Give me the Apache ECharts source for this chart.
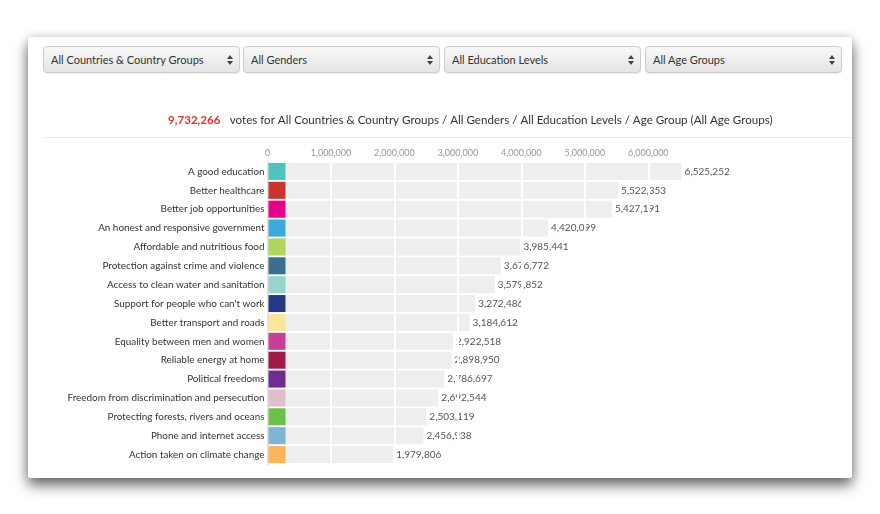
<!DOCTYPE html>
<html>
<head>
<meta charset="utf-8">
<script src="https://cdn.jsdelivr.net/npm/echarts@6/dist/echarts.min.js"></script>
<style>
  html, body { margin:0; padding:0; background:#fff; width:880px; height:514px; overflow:hidden; font-family: Lato, "Open Sans", sans-serif; }
  #card { position:absolute; left:28px; top:37px; width:824px; height:441px; background:#fff; border-radius:2px;
          box-shadow: 0 7px 14px rgba(0,0,0,0.6), 0 0 8px rgba(0,0,0,0.12); }
  #sep { position:absolute; left:43px; top:137px; width:809px; height:1px; background:#e9e9e9; }
  .sel { position:absolute; top:46px; height:27px; border:1px solid #cdcdcd; border-radius:4px;
         background: linear-gradient(#f8f8f8, #e4e4e4); box-sizing:border-box; box-shadow: 0 1px 1px rgba(0,0,0,0.08);
         font-size:11px; color:#333; line-height:26px; padding-left:7px; white-space:nowrap; }
  .arr { position:absolute; right:6px; top:8px; width:6px; height:10px; }
  .arr:before, .arr:after { content:""; position:absolute; left:0; border-left:3px solid transparent; border-right:3px solid transparent; }
  .arr:before { top:0; border-bottom:4px solid #444; }
  .arr:after { top:6px; border-top:4px solid #444; }
  #chart { position:absolute; left:0; top:0; width:880px; height:514px; }
</style>
</head>
<body>
<div id="card"></div>
<div id="sep"></div>
<div id="filters"></div>
<div id="chart"></div>
<script>
// ---- data ----
const filterLabels = ["All Countries & Country Groups", "All Genders", "All Education Levels", "All Age Groups"];
const totalVotes = 9732266;
const categories = [
  "A good education",
  "Better healthcare",
  "Better job opportunities",
  "An honest and responsive government",
  "Affordable and nutritious food",
  "Protection against crime and violence",
  "Access to clean water and sanitation",
  "Support for people who can't work",
  "Better transport and roads",
  "Equality between men and women",
  "Reliable energy at home",
  "Political freedoms",
  "Freedom from discrimination and persecution",
  "Protecting forests, rivers and oceans",
  "Phone and internet access",
  "Action taken on climate change"
];
const votes = [6525252, 5522353, 5427191, 4420099, 3985441, 3676772, 3579852, 3272486,
               3184612, 2922518, 2898950, 2786697, 2692544, 2503119, 2456938, 1979806];
const categoryColors = ["#4fc3bd", "#c8352e", "#e6008a", "#3ea8dc", "#b1d35f", "#3b6f8f", "#96d5c9", "#263a84",
                        "#f9e79b", "#c73f98", "#a01a45", "#6f2c91", "#e0bfcc", "#6cc04a", "#7fb4d7", "#fbb45a"];
const tickInterval = 1000000;

// ---- filters (HTML dropdown look) ----
const selLefts = [43, 243, 444, 645];
const selWidth = 197;
const fwrap = document.getElementById('filters');
filterLabels.forEach((t, i) => {
  const d = document.createElement('div');
  d.className = 'sel';
  d.style.left = selLefts[i] + 'px';
  d.style.width = selWidth + 'px';
  d.textContent = t;
  const a = document.createElement('span');
  a.className = 'arr';
  d.appendChild(a);
  fwrap.appendChild(d);
});

// ---- chart ----
const fmt = v => Number(v).toLocaleString('en-US');
const chart = echarts.init(document.getElementById('chart'), null, { renderer: 'canvas' });
const titleText = '{r|' + fmt(totalVotes) + '}  {t|votes for ' + filterLabels[0] + ' / ' + filterLabels[1] + ' / ' +
  filterLabels[2] + ' / Age Group (' + filterLabels[3] + ')}';

chart.setOption({
  backgroundColor: 'transparent',
  animation: false,
  textStyle: { fontFamily: 'Lato' },
  title: {
    text: titleText,
    left: 163, top: 106,
    textStyle: {
      fontWeight: 'normal',
      rich: {
        r: { color: '#e5322b', fontWeight: 'bold', fontSize: 11.6, fontFamily: 'Lato' },
        t: { color: '#333', fontWeight: 'normal', fontSize: 11.6, fontFamily: 'Lato' }
      }
    }
  },
  grid: { left: 267.5, top: 162, width: 414.1, height: 302, containLabel: false },
  xAxis: {
    type: 'value', position: 'top', min: 0, max: 'dataMax', interval: tickInterval, z: 5,
    axisLine: { show: false }, axisTick: { show: false },
    axisLabel: { color: '#999', fontSize: 9, margin: 4, showMaxLabel: false, formatter: v => fmt(v) },
    splitLine: { show: true, showMinLine: false, showMaxLine: false, lineStyle: { color: '#fff', width: 2 } }
  },
  yAxis: {
    type: 'category', data: categories, inverse: true, z: 6,
    axisLine: { show: true, lineStyle: { color: '#e2e2e2', width: 2 } },
    axisTick: { show: false },
    axisLabel: { color: '#333', fontSize: 9.9, margin: 3 }
  },
  series: [
    {
      type: 'bar', data: votes, barWidth: 17, z: 2,
      itemStyle: { color: '#eeeeee' },
      label: { show: true, position: 'right', distance: 3, color: '#555', fontSize: 10, formatter: p => fmt(p.value) }
    },
    {
      type: 'custom', z: 10,
      data: categories.map((c, i) => [0, i]),
      encode: { x: 0, y: 1 },
      renderItem: (params, api) => {
        const p = api.coord([api.value(0), api.value(1)]);
        const h = 17;
        return { type: 'rect', shape: { x: p[0] + 1, y: p[1] - h / 2, width: h, height: h },
                 style: { fill: categoryColors[params.dataIndex] } };
      }
    }
  ]
});
</script>
</body>
</html>
